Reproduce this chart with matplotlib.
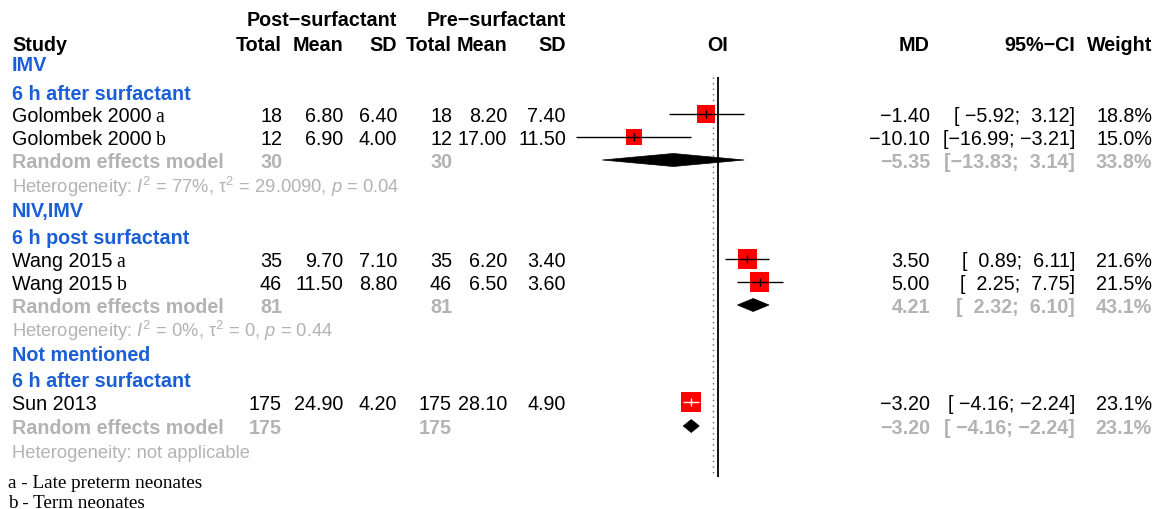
import matplotlib
matplotlib.use("Agg")
import matplotlib.pyplot as plt
from matplotlib.patches import Polygon
import numpy as np

plt.rcParams['font.family'] = ['Liberation Sans', 'DejaVu Sans']
plt.rcParams['mathtext.fontset'] = 'custom'
plt.rcParams['mathtext.rm'] = 'Liberation Sans'
plt.rcParams['mathtext.it'] = 'Liberation Sans:italic'
plt.rcParams['mathtext.bf'] = 'Liberation Sans:bold'

# ---------------- data ----------------
studies = ["Golombek 2000", "Golombek 2000", "Wang 2015", "Wang 2015", "Sun 2013"]
study_notes = ["a", "b", "a", "b", ""]
post_n = [18, 12, 35, 46, 175]
post_mean = [6.80, 6.90, 9.70, 11.50, 24.90]
post_sd = [6.40, 4.00, 7.10, 8.80, 4.20]
pre_n = [18, 12, 35, 46, 175]
pre_mean = [8.20, 17.00, 6.20, 6.50, 28.10]
pre_sd = [7.40, 11.50, 3.40, 3.60, 4.90]
md = [-1.40, -10.10, 3.50, 5.00, -3.20]
ci_lo = [-5.92, -16.99, 0.89, 2.25, -4.16]
ci_hi = [3.12, -3.21, 6.11, 7.75, -2.24]
weight = [18.8, 15.0, 21.6, 21.5, 23.1]

group_names = ["IMV", "NIV,IMV", "Not mentioned"]
group_times = ["6 h after surfactant", "6 h post surfactant", "6 h after surfactant"]
group_post_n = [30, 81, 175]
group_pre_n = [30, 81, 175]
group_md = [-5.35, 4.21, -3.20]
group_lo = [-13.83, 2.32, -4.16]
group_hi = [3.14, 6.10, -2.24]
group_weight = [33.8, 43.1, 23.1]
group_het = ["Heterogeneity: $I^2$ = 77%, \u03c4$^2$ = 29.0090, $p$ = 0.04",
             "Heterogeneity: $I^2$ = 0%, \u03c4$^2$ = 0, $p$ = 0.44",
             "Heterogeneity: not applicable"]
overall_md = -0.65

footnotes = ["a - Late preterm neonates", "b - Term neonates"]

# ---------------- layout ----------------
W, H = 1160, 510
study_rows = [115, 138, 260, 283, 403]
group_rows = [64, 210, 354]
time_rows = [93, 237, 380]
pooled_rows = [161, 306, 427]
het_rows = [186, 330, 451]
foot_rows = [481, 501]

FS = 14.2
FS_HET = 13.2
FS_FOOT = 13.8
BLUE = "#1a5fd6"
GRAY = "#b3b3b3"

x_label = 12
x_post_n, x_post_m, x_post_sd = 282, 343, 397
x_pre_n, x_pre_m, x_pre_sd = 452, 507, 566
x_md, x_ci, x_w = 930, 1075, 1152

fig = plt.figure(figsize=(W / 100, H / 100), dpi=100)
tx = fig.add_axes([0, 0, 1, 1])
tx.set_xlim(0, W)
tx.set_ylim(H, 0)
tx.axis('off')


def put(x, yc, s, ha='left', color='black', weight='normal', size=FS, family=None):
    kw = {}
    if family is not None:
        kw['family'] = family
    base = yc + 0.36 * size * 100 / 72
    return tx.text(x, base, s, ha=ha, va='baseline', color=color,
                   fontweight=weight, fontsize=size, **kw)


def mfmt(v, fmt="{:.2f}"):
    return fmt.format(v).replace('-', '\u2212')


def cifmt(lo, hi):
    return "[" + mfmt(lo, "{:6.2f}") + "; " + mfmt(hi, "{:5.2f}") + "]"


# headers
put(x_post_sd, 19, "Post\u2212surfactant", ha='right', weight='bold')
put(x_pre_sd, 19, "Pre\u2212surfactant", ha='right', weight='bold')
put(x_label, 44, "Study", weight='bold')
for x, s in [(x_post_n, "Total"), (x_post_m, "Mean"), (x_post_sd, "SD"),
             (x_pre_n, "Total"), (x_pre_m, "Mean"), (x_pre_sd, "SD"),
             (x_md, "MD"), (x_ci, "95%\u2212CI"), (x_w, "Weight")]:
    put(x, 44, s, ha='right', weight='bold')
put(718, 44, "OI", ha='center', weight='bold')

renderer = fig.canvas.get_renderer()

# study rows
for i, y in enumerate(study_rows):
    t = put(x_label, y, studies[i])
    if study_notes[i]:
        bb = t.get_window_extent(renderer=renderer)
        put(bb.x1 + 4, y, study_notes[i], family='Liberation Serif')
    put(x_post_n, y, str(post_n[i]), ha='right')
    put(x_post_m, y, mfmt(post_mean[i]), ha='right')
    put(x_post_sd, y, mfmt(post_sd[i]), ha='right')
    put(x_pre_n, y, str(pre_n[i]), ha='right')
    put(x_pre_m, y, mfmt(pre_mean[i]), ha='right')
    put(x_pre_sd, y, mfmt(pre_sd[i]), ha='right')
    put(x_md, y, mfmt(md[i]), ha='right')
    put(x_ci, y, cifmt(ci_lo[i], ci_hi[i]), ha='right')
    put(x_w, y, "{:.1f}%".format(weight[i]), ha='right')

# group rows
for g in range(len(group_names)):
    put(x_label, group_rows[g], group_names[g], color=BLUE, weight='bold')
    put(x_label, time_rows[g], group_times[g], color=BLUE, weight='bold')
    y = pooled_rows[g]
    put(x_label, y, "Random effects model", color=GRAY, weight='bold')
    put(x_post_n, y, str(group_post_n[g]), ha='right', color=GRAY, weight='bold')
    put(x_pre_n, y, str(group_pre_n[g]), ha='right', color=GRAY, weight='bold')
    put(x_md, y, mfmt(group_md[g]), ha='right', color=GRAY, weight='bold')
    put(x_ci, y, cifmt(group_lo[g], group_hi[g]), ha='right', color=GRAY, weight='bold')
    put(x_w, y, "{:.1f}%".format(group_weight[g]), ha='right', color=GRAY, weight='bold')
    put(x_label, het_rows[g], group_het[g], color=GRAY, size=FS_HET)

for s, y in zip(footnotes, foot_rows):
    put(8, y, s, family='Liberation Serif', size=FS_FOOT)

# ---------------- forest panel ----------------
ppu = 8.36          # pixels per MD unit
zero_px = 718
xlim = (-17.6, 8.6)
left_px = zero_px + xlim[0] * ppu
fx = fig.add_axes([left_px / W, 0, (xlim[1] - xlim[0]) * ppu / W, 1])
fx.set_xlim(*xlim)
fx.set_ylim(H, 0)
fx.axis('off')

line_top, line_bot = 78, 478
fx.vlines(overall_md, line_top, line_bot, color='#666666', lw=1.0,
          linestyles=[(0, (1, 3))], zorder=1)
fx.vlines(0, line_top, line_bot, color='black', lw=1.3, zorder=1)

side_px = 4.15 * np.sqrt(np.array(weight))
side_pt = side_px * 72 / 100
fx.scatter(md, study_rows, marker='s', s=side_pt ** 2, color='#ff0000',
           linewidths=0, zorder=2)
for i, y in enumerate(study_rows):
    inside = (ci_hi[i] - ci_lo[i]) * ppu < side_px[i]
    c = 'white' if inside else 'black'
    fx.hlines(y, ci_lo[i], ci_hi[i], color=c, lw=1.0, zorder=3)
    fx.scatter([md[i]], [y], marker='|', s=28, color=c, linewidths=1.0, zorder=3)

for g, y in enumerate(pooled_rows):
    hh = 6.5
    fx.add_patch(Polygon([(group_lo[g], y), (group_md[g], y - hh),
                          (group_hi[g], y), (group_md[g], y + hh)],
                         closed=True, facecolor='black', edgecolor='black',
                         lw=0.5, zorder=3))

fig.savefig("out.png", dpi=100)
